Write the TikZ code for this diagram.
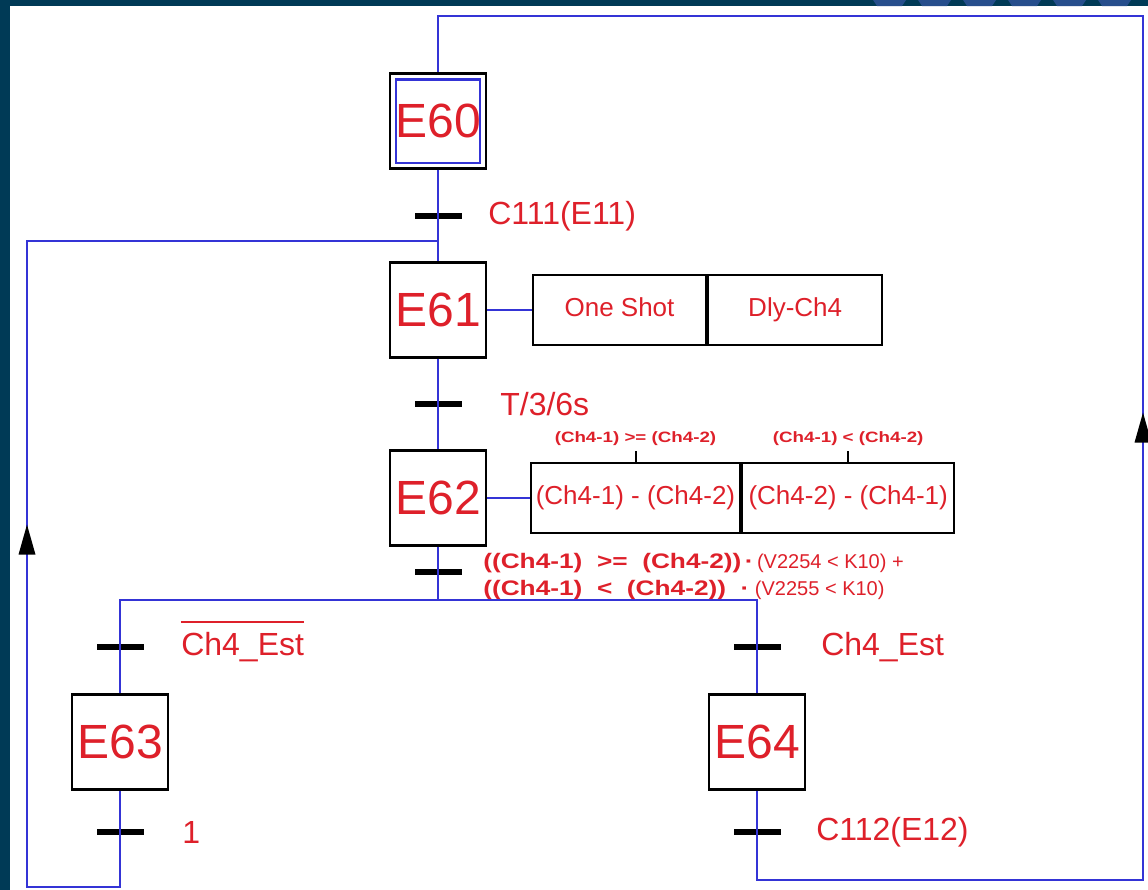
\documentclass[tikz,border=0pt]{standalone}
\usepackage{fontspec}
\setmainfont{Liberation Sans}
\newfontfamily\widefont[FakeStretch=1.25]{Liberation Sans}
\usetikzlibrary{positioning,decorations.markings}

\definecolor{grafred}{RGB}{222,32,42}
\definecolor{grafblue}{RGB}{52,52,214}
\definecolor{framenavy}{RGB}{0,58,86}
\definecolor{stripeblue}{RGB}{38,78,140}

\tikzset{
  etape/.style={draw=black, line width=1.2pt, fill=white, minimum width=48pt,
    minimum height=47.5pt, inner sep=0pt, text=grafred, font=\fontsize{24}{24}\selectfont},
  action/.style={draw=black, line width=1.1pt, fill=white, minimum height=35pt,
    inner sep=0pt, text height=9.5pt, text depth=2.7pt, text=grafred,
    font=\fontsize{13}{13}\selectfont},
  bar/.style={fill=black, minimum width=23.5pt, minimum height=2.6pt, inner sep=0pt},
  cond/.style={text=grafred, inner sep=0pt, font=\fontsize{16}{16}\selectfont},
  smallcond/.style={text=grafred, inner sep=0pt, font=\widefont\fontsize{7.5}{7.5}\selectfont\bfseries},
  flow/.style={draw=grafblue, line width=1.2pt},
  tipat/.style={postaction={decorate}, decoration={markings, mark=at position #1 with
    {\fill[black] (0pt,0pt) -- (-15pt,4.25pt) -- (-15pt,-4.25pt) -- cycle;}}},
}

\begin{document}
\begin{tikzpicture}[x=0.5pt, y=-0.5pt]
    \useasboundingbox (0,0) rectangle (1148,890);
    % Frame
    \fill[white] (0,0) rectangle (1148,890);
    \fill[framenavy] (0,0) rectangle (10,890);
    \fill[framenavy] (0,0) rectangle (1148,6);
    \foreach \i in {0,...,5} {
        \fill[stripeblue] ({873+45*\i},0) -- ++(33,0) -- ++(-4,6) -- ++(-25,0) -- cycle;
    }
    % Steps
    \node[etape] (E60) at (438,121) {E60};
    \node[etape] (E61) at (438,310) {E61};
    \node[etape] (E62) at (438,498) {E62};
    \node[etape] (E63) at (120,742) {E63};
    \node[etape] (E64) at (757,742) {E64};
    \draw[flow] ([shift={(3.5pt,3.5pt)}]E60.south west) rectangle ([shift={(-3.5pt,-3.5pt)}]E60.north east);
    % Actions
    \node[action, minimum width=86.5pt] (a1) at (619.5,310) {One Shot};
    \node[action, minimum width=87pt, right=0pt of a1] (a2) {Dly-Ch4};
    \node[action, minimum width=104.5pt] (a3) at (635.5,498) {(Ch4-1) - (Ch4-2)};
    \node[action, minimum width=106pt, right=0pt of a3] (a4) {(Ch4-2) - (Ch4-1)};
    \coordinate[above=5.5pt of a3.north] (k3);
    \coordinate[above=5.5pt of a4.north] (k4);
    \draw[line width=1pt] (a3.north) -- (k3);
    \draw[line width=1pt] (a4.north) -- (k4);
    \node[smallcond, above=2.5pt of k3] {(Ch4-1) >= (Ch4-2)};
    \node[smallcond, above=2.5pt of k4] {(Ch4-1) < (Ch4-2)};
    % Transitions
    \foreach \n/\x/\y in {t1/438/216, t2/438/404, t3/438/572, t4/120/647,
                          t5/757/647, t6/120/832, t7/757/832} {
        \node[bar] (\n) at (\x,\y) {};
    }
    \node[cond, right=13pt of t1] (l1) {C111(E11)};
    \node[cond, right=19pt of t2] (l2) {T/3/6s};
    \node[text=grafred, inner sep=0pt, align=left, font=\fontsize{10}{13.5}\selectfont,
          right=10.5pt of t3, yshift=-2.25pt] (l3)
        {{\widefont\fontsize{10.5}{13.5}\selectfont\bfseries((Ch4-1)\ \ >=\ \ (Ch4-2))\,·}\,(V2254 < K10) +\\
         {\widefont\fontsize{10.5}{13.5}\selectfont\bfseries((Ch4-1)\ \ <\ \ (Ch4-2))\ \ ·}\ (V2255 < K10)};
    \node[cond, right=18.5pt of t4] (l4) {Ch4\_Est};
    \draw[grafred, line width=1.2pt] ([yshift=5pt]l4.north west) -- ([yshift=5pt]l4.north east);
    \node[cond, right=20pt of t5] (l5) {Ch4\_Est};
    \node[cond, right=19pt of t6] (l6) {1};
    \node[cond, right=17.5pt of t7] (l7) {C112(E12)};
    % Links
    \coordinate (j1) at (438,241);
    \coordinate (d0) at (438,600);
    \coordinate (cl1) at (27,887);
    \coordinate (cl2) at (27,241);
    \coordinate (cr1) at (1143,880);
    \coordinate (cr2) at (1143,16);
    \draw[flow] (E60.south) -- (E61.north);
    \draw[flow] (E61.south) -- (E62.north);
    \draw[flow] (E62.south) -- (d0);
    \draw[flow] (E63.north) |- (d0) -| (E64.north);
    \draw[flow] (E61.east) -- (a1.west);
    \draw[flow] (E62.east) -- (a3.west);
    % Loops back
    \draw[flow] (E63.south) |- (cl1) -- (cl2) -- (j1);
    \draw[flow] (E64.south) |- (cr1) -- (cr2) -| (E60.north);
    \path[tipat=0.561] (cl1) -- (cl2);
    \path[tipat=0.541] (cr1) -- (cr2);
\end{tikzpicture}
\end{document}
